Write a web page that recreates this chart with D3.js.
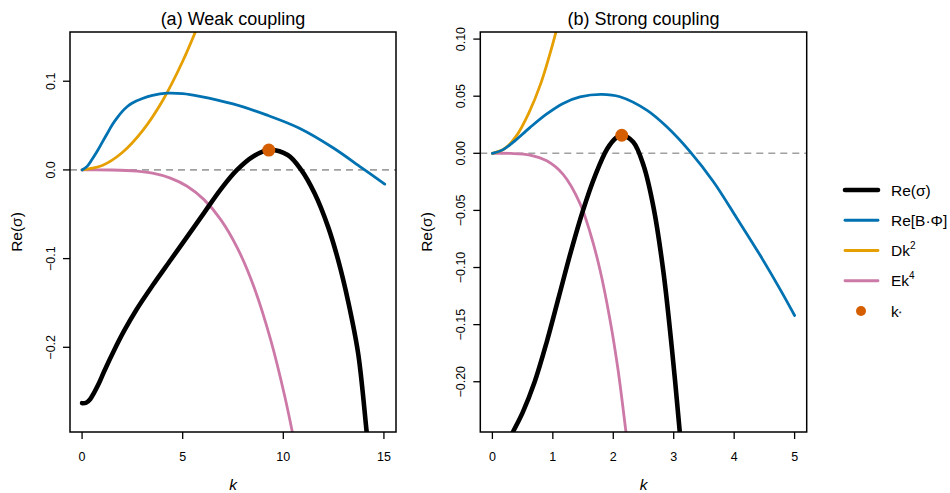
<!DOCTYPE html>
<html>
<head>
<meta charset="utf-8">
<script src="https://cdn.jsdelivr.net/npm/d3@7"></script>
<style>
  body { margin: 0; background: #fff; }
  svg { display: block; font-family: "Liberation Sans", Arial, sans-serif; }
</style>
</head>
<body>
<div id="viz"></div>
<script>
(function() {

// Values, as [k, value] pairs.
// (a) Weak coupling
let weakSigma = [
  [0.0, -0.263], [0.2, -0.2625], [0.4, -0.2585], [0.6, -0.251], [0.85, -0.24],
  [1.1, -0.227], [1.6, -0.203], [2.1, -0.181], [2.7, -0.1576], [3.5, -0.1304],
  [4.4, -0.1016], [5.2, -0.076], [6.0, -0.0504], [6.9, -0.0216], [7.7, 0.0],
  [8.5, 0.0152], [9.3, 0.0224], [10.22, 0.0168], [10.89, 0.0], [11.56, -0.0267],
  [12.23, -0.0645], [12.73, -0.102], [13.22, -0.148], [13.72, -0.207], [14.14, -0.295],
  [14.3, -0.33]
];
let weakBPhi = [
  [0.0, 0.0], [0.25, 0.004], [0.5, 0.012], [0.75, 0.021], [1.0, 0.031], [1.25, 0.041],
  [1.5, 0.051], [1.75, 0.059], [2.0, 0.066], [2.25, 0.0715], [2.5, 0.0755],
  [3.0, 0.0805], [3.5, 0.084], [4.2, 0.0865], [5.0, 0.086], [5.85, 0.083],
  [7.5, 0.0744], [9.16, 0.062], [10.8, 0.047], [12.47, 0.025], [13.9, 0.0023],
  [15.04, -0.016]
];
let weakDk2 = [
  [0, 0], [1, 0.0049], [2, 0.0196], [3, 0.044], [4, 0.078], [5, 0.1225], [5.8, 0.165]
];
let weakEk4 = [
  [0, 0], [1.5, -0.0001], [2.72, -0.0014], [3.5, -0.0037], [4.39, -0.0092], [5.22, -0.0184],
  [6.06, -0.0335], [6.89, -0.056], [7.72, -0.0881], [8.56, -0.1331], [9.39, -0.193],
  [10.06, -0.254], [10.48, -0.299], [10.7, -0.325]
];
let weakKStar = [9.28, 0.0224];

// (b) Strong coupling
let strongSigma = [
  [0.25, -0.254], [0.34, -0.244], [0.5, -0.227], [0.7, -0.2], [0.9, -0.165],
  [1.1, -0.1255], [1.3, -0.0858], [1.5, -0.0498], [1.7, -0.0195], [1.9, 0.004],
  [2.05, 0.0138], [2.14, 0.0158], [2.33, 0.0099], [2.50, -0.0105], [2.67, -0.0485],
  [2.83, -0.104], [2.97, -0.171], [3.10, -0.244], [3.14, -0.27]
];
let strongBPhi = [
  [0.0, 0.0], [0.17, 0.003], [0.34, 0.0095], [0.62, 0.0225], [0.90, 0.0345],
  [1.17, 0.0437], [1.45, 0.0494], [1.81, 0.0516], [2.11, 0.0495], [2.56, 0.0376],
  [2.89, 0.023], [3.27, 0.0015], [3.66, -0.0251], [4.05, -0.0573], [4.43, -0.0893],
  [4.77, -0.120], [5.0, -0.142]
];
let strongDk2 = [
  [0, 0], [0.2, 0.004], [0.4, 0.0155], [0.6, 0.035], [0.8, 0.061], [1.0, 0.096], [1.15, 0.127]
];
let strongEk4 = [
  [0, 0], [0.3, -0.0001], [0.62, -0.0015], [0.90, -0.0066], [1.17, -0.0185],
  [1.45, -0.0440], [1.62, -0.070], [1.78, -0.102], [1.95, -0.147], [2.08, -0.190],
  [2.21, -0.244], [2.26, -0.265]
];
let strongKStar = [2.14, 0.0158];

let weakXTicks = [0, 5, 10, 15];
let weakYTicks = [-0.2, -0.1, 0.0, 0.1];
let weakYLabels = ["\u22120.2", "\u22120.1", "0.0", "0.1"];
let strongXTicks = [0, 1, 2, 3, 4, 5];
let strongYTicks = [-0.2, -0.15, -0.1, -0.05, 0.0, 0.05, 0.1];
let strongYLabels = ["\u22120.20", "\u22120.15", "\u22120.10", "\u22120.05", "0.00", "0.05", "0.10"];

let colSigma = "#000000";
let colBPhi = "#0072B2";
let colDk2 = "#E69F00";
let colEk4 = "#CC79A7";
let colKStar = "#D55E00";

let canvasWidth = 950;
let canvasHeight = 493;
let plotTop = 32;
let plotBottom = 432;

let svg = d3.select("#viz").append("svg")
  .attr("width", canvasWidth)
  .attr("height", canvasHeight);

function drawPanel(opts) {
  let x = d3.scaleLinear().domain(opts.xDomain).range([opts.left, opts.right]);
  let y = d3.scaleLinear().domain(opts.yDomain).range([plotBottom, plotTop]);
  let g = svg.append("g");

  g.append("clipPath").attr("id", opts.id + "-clip")
    .append("rect")
      .attr("x", opts.left).attr("y", plotTop)
      .attr("width", opts.right - opts.left).attr("height", plotBottom - plotTop);

  let body = g.append("g").attr("clip-path", "url(#" + opts.id + "-clip)");

  // Zero reference line
  body.append("line")
    .attr("x1", opts.left).attr("x2", opts.right)
    .attr("y1", y(0)).attr("y2", y(0))
    .attr("stroke", "#a0a0a0")
    .attr("stroke-width", 1.6)
    .attr("stroke-dasharray", "7,5");

  let line = d3.line()
    .x((d) => x(d[0]))
    .y((d) => y(d[1]))
    .curve(d3.curveCatmullRom.alpha(0.5));

  let series = [
    { data: opts.ek4, color: colEk4, width: 2.8 },
    { data: opts.dk2, color: colDk2, width: 2.8 },
    { data: opts.bphi, color: colBPhi, width: 2.8 },
    { data: opts.sigma, color: colSigma, width: 4.6 }
  ];
  series.forEach((s) => {
    body.append("path")
      .attr("d", line(s.data))
      .attr("fill", "none")
      .attr("stroke", s.color)
      .attr("stroke-width", s.width)
      .attr("stroke-linecap", "round")
      .attr("stroke-linejoin", "round");
  });

  body.append("circle")
    .attr("cx", x(opts.kstar[0]))
    .attr("cy", y(opts.kstar[1]))
    .attr("r", 6.5)
    .attr("fill", colKStar);

  // Box
  g.append("rect")
    .attr("x", opts.left).attr("y", plotTop)
    .attr("width", opts.right - opts.left).attr("height", plotBottom - plotTop)
    .attr("fill", "none")
    .attr("stroke", "#000")
    .attr("stroke-width", 1.5);

  // x axis
  let xAxis = g.append("g").attr("transform", "translate(0," + plotBottom + ")");
  xAxis.selectAll("line").data(opts.xTicks).enter().append("line")
    .attr("x1", (d) => x(d)).attr("x2", (d) => x(d))
    .attr("y1", 0).attr("y2", 7)
    .attr("stroke", "#000").attr("stroke-width", 1.3);
  xAxis.selectAll("text").data(opts.xTicks).enter().append("text")
    .attr("x", (d) => x(d))
    .attr("y", 29)
    .attr("text-anchor", "middle")
    .attr("font-size", 12.5)
    .text((d) => d);

  // y axis
  let yAxis = g.append("g").attr("transform", "translate(" + opts.left + ",0)");
  yAxis.selectAll("line").data(opts.yTicks).enter().append("line")
    .attr("x1", -7).attr("x2", 0)
    .attr("y1", (d) => y(d)).attr("y2", (d) => y(d))
    .attr("stroke", "#000").attr("stroke-width", 1.3);
  yAxis.selectAll("text").data(opts.yTicks).enter().append("text")
    .attr("transform", (d) => "translate(-15," + y(d) + ") rotate(-90)")
    .attr("text-anchor", "middle")
    .attr("font-size", 12.5)
    .text((d, i) => opts.yLabels[i]);

  // Labels
  let mid = (opts.left + opts.right) / 2;
  g.append("text")
    .attr("x", mid).attr("y", 25)
    .attr("text-anchor", "middle")
    .attr("font-size", 18)
    .text(opts.title);
  g.append("text")
    .attr("x", mid).attr("y", 490)
    .attr("text-anchor", "middle")
    .attr("font-size", 15.5)
    .attr("font-style", "italic")
    .text("k");
  g.append("text")
    .attr("transform", "translate(" + (opts.left - 48) + "," + ((plotTop + plotBottom) / 2) + ") rotate(-90)")
    .attr("text-anchor", "middle")
    .attr("font-size", 15.5)
    .text("Re(\u03c3)");
}

drawPanel({
  id: "weak", title: "(a) Weak coupling",
  left: 70, right: 396,
  xDomain: [-0.6, 15.6], yDomain: [-0.2955, 0.1555],
  xTicks: weakXTicks, yTicks: weakYTicks, yLabels: weakYLabels,
  sigma: weakSigma, bphi: weakBPhi, dk2: weakDk2, ek4: weakEk4, kstar: weakKStar
});

drawPanel({
  id: "strong", title: "(b) Strong coupling",
  left: 480.3, right: 806.7,
  xDomain: [-0.2, 5.2], yDomain: [-0.244, 0.1062],
  xTicks: strongXTicks, yTicks: strongYTicks, yLabels: strongYLabels,
  sigma: strongSigma, bphi: strongBPhi, dk2: strongDk2, ek4: strongEk4, kstar: strongKStar
});

// Legend
let legendItems = [
  { key: "sigma", color: colSigma, width: 4.6 },
  { key: "bphi", color: colBPhi, width: 2.8 },
  { key: "dk2", color: colDk2, width: 2.8 },
  { key: "ek4", color: colEk4, width: 2.8 },
  { key: "kstar", color: colKStar, width: 0 }
];
let legendY = d3.scalePoint().domain(legendItems.map((d) => d.key)).range([190, 311]);
let legend = svg.append("g");
legendItems.forEach((item) => {
  let yy = legendY(item.key);
  if (item.key === "kstar") {
    legend.append("circle")
      .attr("cx", 861).attr("cy", yy).attr("r", 5)
      .attr("fill", item.color);
  } else {
    legend.append("line")
      .attr("x1", 845).attr("x2", 878)
      .attr("y1", yy).attr("y2", yy)
      .attr("stroke", item.color)
      .attr("stroke-width", item.width)
      .attr("stroke-linecap", "round");
  }
  let t = legend.append("text")
    .attr("x", 891).attr("y", yy + 5.5)
    .attr("font-size", 15.5);
  if (item.key === "sigma") {
    t.text("Re(\u03c3)");
  } else if (item.key === "bphi") {
    t.text("Re[B\u00b7\u03a6]");
  } else if (item.key === "dk2") {
    t.append("tspan").text("Dk");
    t.append("tspan").attr("font-size", 10).attr("dy", -7).text("2");
  } else if (item.key === "ek4") {
    t.append("tspan").text("Ek");
    t.append("tspan").attr("font-size", 10).attr("dy", -7).text("4");
  } else {
    t.append("tspan").text("k");
    t.append("tspan").attr("font-size", 7).attr("dy", -1).text("*");
  }
});

})();
</script>
</body>
</html>
